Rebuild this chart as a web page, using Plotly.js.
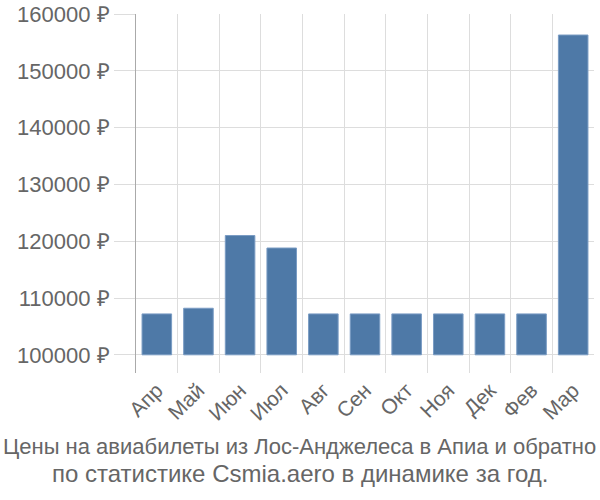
<!DOCTYPE html>
<html><head><meta charset="utf-8">
<script src="https://cdn.plot.ly/plotly-3.0.1.min.js"></script>
<style>html,body{margin:0;padding:0;background:#fff}#c{width:600px;height:500px}</style>
</head><body><div id="c"></div>
<script>
const months = ['Апр','Май','Июн','Июл','Авг','Сен','Окт','Ноя','Дек','Фев','Мар'];
const prices = [107200,108200,121000,118800,107200,107200,107200,107200,107200,107200,156300];
const baseValue = 100000;
const yTicks = [100000,110000,120000,130000,140000,150000,160000];
const yTickLabels = ['100000 ₽','110000 ₽','120000 ₽','130000 ₽','140000 ₽','150000 ₽','160000 ₽'];
const titleLines = ['Цены на авиабилеты из Лос-Анджелеса в Апиа и обратно', 'по статистике Csmia.aero в динамике за год.'];

Plotly.newPlot('c', [{
  type: 'bar',
  x: months,
  y: prices.map(v => v - baseValue),
  base: prices.map(() => baseValue),
  marker: {color: '#4e79a7', line: {color: '#7a9cc4', width: 1}},
  hoverinfo: 'none'
}], {
  width: 600, height: 500,
  margin: {l: 136, r: 6, t: 14, b: 127},
  paper_bgcolor: '#fff', plot_bgcolor: '#fff',
  bargap: 0.29,
  showlegend: false,
  font: {family: 'Liberation Sans, Arial, sans-serif', color: '#666'},
  annotations: [{
    text: titleLines[0], xref: 'paper', yref: 'paper', x: 0.357, y: -0.2061, xanchor: 'center', yanchor: 'middle',
    showarrow: false, align: 'center', font: {size: 22, color: '#666'}
  }, {
    text: titleLines[1], xref: 'paper', yref: 'paper', x: 0.357, y: -0.2813, xanchor: 'center', yanchor: 'middle',
    showarrow: false, align: 'center', font: {size: 24, color: '#666'}
  }],
  xaxis: {
    type: 'category', tickson: 'boundaries', showgrid: true, gridcolor: '#ddd', gridwidth: 1,
    ticks: '', tickangle: -45, tickfont: {size: 21, color: '#666'},
    showline: false, zeroline: false
  },
  yaxis: {
    range: [96800, 160000], tickvals: yTicks, ticktext: yTickLabels,
    showgrid: true, gridcolor: '#ddd', gridwidth: 1,
    ticks: 'outside', ticklen: 21, tickcolor: '#ddd', tickwidth: 1,
    tickfont: {size: 22, color: '#666'},
    showline: true, linecolor: '#aaa', linewidth: 1, zeroline: false
  }
}, {displayModeBar: false, staticPlot: true});
</script></body></html>
